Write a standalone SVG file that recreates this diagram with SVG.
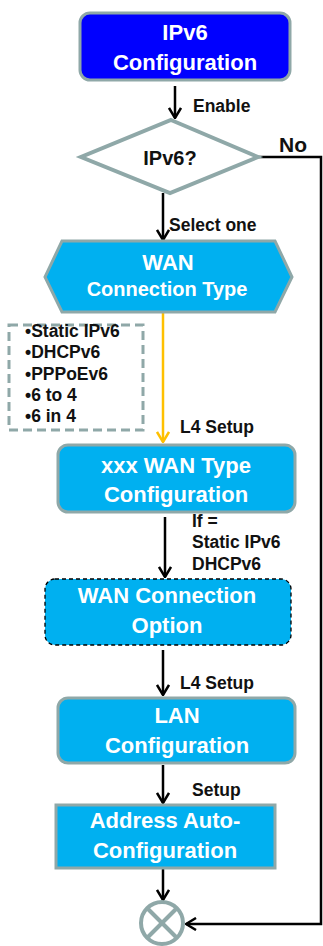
<svg xmlns="http://www.w3.org/2000/svg" width="323" height="946" viewBox="0 0 323 946">
<style>
.node{fill:#00b0f0;stroke:#8fa8a8;stroke-width:3}
.nt{font-family:"Liberation Sans",Arial,sans-serif;font-weight:bold;font-size:22px;fill:#fff;text-anchor:middle}
.lb{font-family:"Liberation Sans",Arial,sans-serif;font-weight:bold;font-size:17.5px;fill:#111}
.ln{fill:none;stroke:#000;stroke-width:2.5}
</style>
<defs>
<marker id="ah" viewBox="0 0 12 14" refX="11" refY="7" markerWidth="12" markerHeight="14" orient="auto" markerUnits="userSpaceOnUse">
<path d="M1,1 L11,7 L1,13" fill="none" stroke="#000" stroke-width="2.5"/>
</marker>
<marker id="aho" viewBox="0 0 12 14" refX="11" refY="7" markerWidth="12" markerHeight="14" orient="auto" markerUnits="userSpaceOnUse">
<path d="M1,1 L11,7 L1,13" fill="none" stroke="#ffc000" stroke-width="2.5"/>
</marker>
</defs>
<rect width="323" height="946" fill="#fff"/>
<g id="connectors">
<line class="ln" x1="175" y1="86" x2="175" y2="118" marker-end="url(#ah)"/>
<line class="ln" x1="163" y1="193" x2="163" y2="240" marker-end="url(#ah)"/>
<line x1="163" y1="313" x2="163" y2="442" stroke="#ffc000" stroke-width="2.5" marker-end="url(#aho)"/>
<line class="ln" x1="165" y1="517" x2="165" y2="577" marker-end="url(#ah)"/>
<line class="ln" x1="163" y1="650" x2="163" y2="695" marker-end="url(#ah)"/>
<line class="ln" x1="163" y1="765" x2="163" y2="803" marker-end="url(#ah)"/>
<line class="ln" x1="163" y1="869" x2="163" y2="900" marker-end="url(#ah)"/>
<polyline class="ln" points="258,157 321,157 321,924 186,924" marker-end="url(#ah)"/>
<text class="lb" x="193" y="112">Enable</text>
<text class="lb" x="279" y="152" style="font-size:21px">No</text>
<text class="lb" x="169" y="231">Select one</text>
<text class="lb" x="180" y="433">L4 Setup</text>
<text class="lb" x="192" y="527">If =</text>
<text class="lb" x="192" y="548">Static IPv6</text>
<text class="lb" x="192" y="570">DHCPv6</text>
<text class="lb" x="180" y="689">L4 Setup</text>
<text class="lb" x="192" y="796">Setup</text>
</g>
<g id="start">
<rect x="80" y="13" width="210" height="67" rx="10" fill="#0000ff" stroke="#8fa8a8" stroke-width="3"/>
<text class="nt" x="185" y="40">IPv6</text>
<text class="nt" x="185" y="70">Configuration</text>
</g>
<g id="decision">
<polygon points="171,120 258,157 170,193 81,157" fill="#fff" stroke="#8fa8a8" stroke-width="4"/>
<text class="nt" x="170" y="165" style="fill:#111;font-size:20px">IPv6?</text>
</g>
<g id="wan-type">
<polygon class="node" points="62,241 275,241 292,277 275,312 62,312 45,277"/>
<text class="nt" x="168" y="270">WAN</text>
<text class="nt" x="167" y="296" style="font-size:20px">Connection Type</text>
</g>
<g id="type-list">
<rect x="9" y="325" width="134" height="105" fill="#fff" stroke="#8fa8a8" stroke-width="3" stroke-dasharray="9,5"/>
<text class="lb" x="25" y="337">•Static IPv6</text>
<text class="lb" x="25" y="358">•DHCPv6</text>
<text class="lb" x="25" y="380">•PPPoEv6</text>
<text class="lb" x="25" y="401">•6 to 4</text>
<text class="lb" x="25" y="422">•6 in 4</text>
</g>
<g id="wan-config">
<rect class="node" x="58" y="445" width="237" height="67" rx="10"/>
<text class="nt" x="176" y="473">xxx WAN Type</text>
<text class="nt" x="176" y="502">Configuration</text>
</g>
<g id="wan-option">
<rect x="45" y="579" width="246" height="66" rx="10" fill="#00b0f0" stroke="#000" stroke-width="1.3" stroke-dasharray="4,3"/>
<text class="nt" x="167" y="603">WAN Connection</text>
<text class="nt" x="167" y="633">Option</text>
</g>
<g id="lan-config">
<rect class="node" x="58" y="698" width="237" height="65" rx="10"/>
<text class="nt" x="177" y="723">LAN</text>
<text class="nt" x="177" y="753">Configuration</text>
</g>
<g id="auto-config">
<rect class="node" x="56" y="805" width="219" height="63"/>
<text class="nt" x="165" y="828">Address Auto-</text>
<text class="nt" x="165" y="858">Configuration</text>
</g>
<g id="end">
<circle cx="162" cy="923" r="21" fill="#fff" stroke="#8fa8a8" stroke-width="4"/>
<line x1="147" y1="908" x2="177" y2="938" stroke="#8fa8a8" stroke-width="4"/>
<line x1="177" y1="908" x2="147" y2="938" stroke="#8fa8a8" stroke-width="4"/>
</g>
</svg>
